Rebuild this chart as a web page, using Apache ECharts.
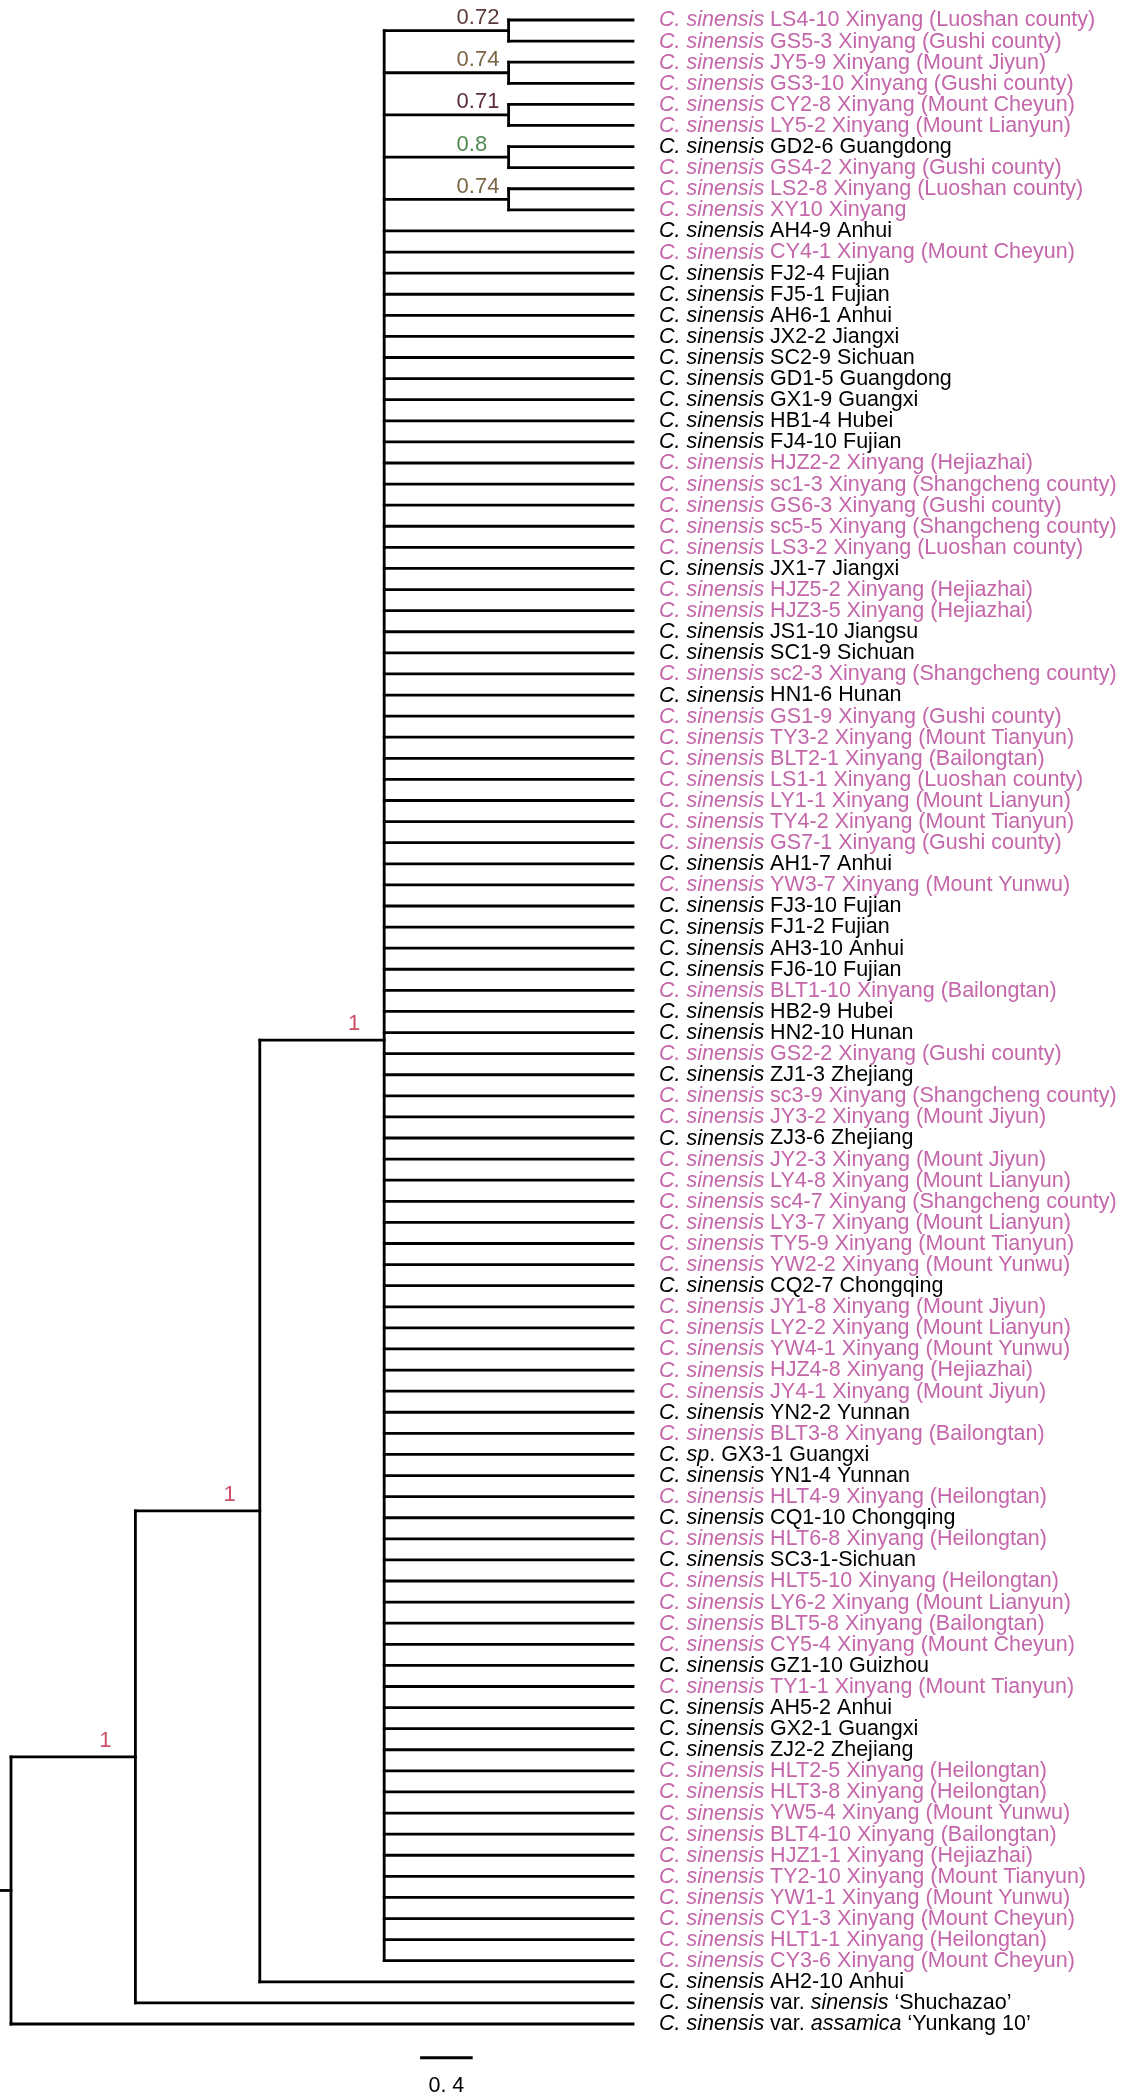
<!DOCTYPE html>
<html>
<head>
<meta charset="utf-8">
<script src="https://cdn.jsdelivr.net/npm/echarts@6/dist/echarts.min.js"></script>
<style>
html,body{margin:0;padding:0;background:#fff;}
#chart{width:1136px;height:2096px;}
</style>
</head>
<body>
<div id="chart"></div>
<script>
// ---------- DATA ----------
// Leaf labels, top to bottom (text after the italic taxon name)
const leafLabels = [
  "LS4-10 Xinyang (Luoshan county)", "GS5-3 Xinyang (Gushi county)", "JY5-9 Xinyang (Mount Jiyun)",
  "GS3-10 Xinyang (Gushi county)", "CY2-8 Xinyang (Mount Cheyun)", "LY5-2 Xinyang (Mount Lianyun)",
  "GD2-6 Guangdong", "GS4-2 Xinyang (Gushi county)", "LS2-8 Xinyang (Luoshan county)",
  "XY10 Xinyang", "AH4-9 Anhui", "CY4-1 Xinyang (Mount Cheyun)",
  "FJ2-4 Fujian", "FJ5-1 Fujian", "AH6-1 Anhui", "JX2-2 Jiangxi", "SC2-9 Sichuan",
  "GD1-5 Guangdong", "GX1-9 Guangxi", "HB1-4 Hubei", "FJ4-10 Fujian",
  "HJZ2-2 Xinyang (Hejiazhai)", "sc1-3 Xinyang (Shangcheng county)", "GS6-3 Xinyang (Gushi county)",
  "sc5-5 Xinyang (Shangcheng county)", "LS3-2 Xinyang (Luoshan county)", "JX1-7 Jiangxi",
  "HJZ5-2 Xinyang (Hejiazhai)", "HJZ3-5 Xinyang (Hejiazhai)", "JS1-10 Jiangsu", "SC1-9 Sichuan",
  "sc2-3 Xinyang (Shangcheng county)", "HN1-6 Hunan", "GS1-9 Xinyang (Gushi county)",
  "TY3-2 Xinyang (Mount Tianyun)", "BLT2-1 Xinyang (Bailongtan)", "LS1-1 Xinyang (Luoshan county)",
  "LY1-1 Xinyang (Mount Lianyun)", "TY4-2 Xinyang (Mount Tianyun)", "GS7-1 Xinyang (Gushi county)",
  "AH1-7 Anhui", "YW3-7 Xinyang (Mount Yunwu)", "FJ3-10 Fujian", "FJ1-2 Fujian", "AH3-10 Anhui",
  "FJ6-10 Fujian", "BLT1-10 Xinyang (Bailongtan)", "HB2-9 Hubei", "HN2-10 Hunan",
  "GS2-2 Xinyang (Gushi county)", "ZJ1-3 Zhejiang", "sc3-9 Xinyang (Shangcheng county)",
  "JY3-2 Xinyang (Mount Jiyun)", "ZJ3-6 Zhejiang", "JY2-3 Xinyang (Mount Jiyun)",
  "LY4-8 Xinyang (Mount Lianyun)", "sc4-7 Xinyang (Shangcheng county)", "LY3-7 Xinyang (Mount Lianyun)",
  "TY5-9 Xinyang (Mount Tianyun)", "YW2-2 Xinyang (Mount Yunwu)", "CQ2-7 Chongqing",
  "JY1-8 Xinyang (Mount Jiyun)", "LY2-2 Xinyang (Mount Lianyun)", "YW4-1 Xinyang (Mount Yunwu)",
  "HJZ4-8 Xinyang (Hejiazhai)", "JY4-1 Xinyang (Mount Jiyun)", "YN2-2 Yunnan",
  "BLT3-8 Xinyang (Bailongtan)", "GX3-1 Guangxi", "YN1-4 Yunnan", "HLT4-9 Xinyang (Heilongtan)",
  "CQ1-10 Chongqing", "HLT6-8 Xinyang (Heilongtan)", "SC3-1-Sichuan", "HLT5-10 Xinyang (Heilongtan)",
  "LY6-2 Xinyang (Mount Lianyun)", "BLT5-8 Xinyang (Bailongtan)", "CY5-4 Xinyang (Mount Cheyun)",
  "GZ1-10 Guizhou", "TY1-1 Xinyang (Mount Tianyun)", "AH5-2 Anhui", "GX2-1 Guangxi", "ZJ2-2 Zhejiang",
  "HLT2-5 Xinyang (Heilongtan)", "HLT3-8 Xinyang (Heilongtan)", "YW5-4 Xinyang (Mount Yunwu)",
  "BLT4-10 Xinyang (Bailongtan)", "HJZ1-1 Xinyang (Hejiazhai)", "TY2-10 Xinyang (Mount Tianyun)",
  "YW1-1 Xinyang (Mount Yunwu)", "CY1-3 Xinyang (Mount Cheyun)", "HLT1-1 Xinyang (Heilongtan)",
  "CY3-6 Xinyang (Mount Cheyun)", "AH2-10 Anhui",
  "‘Shuchazao’", "‘Yunkang 10’"
];
// Taxon-name exceptions (default: italic "C. sinensis")
const taxonSp = [68];                       // "C. sp."
const taxonVar = {94: "sinensis", 95: "assamica"}; // C. sinensis var. X

// Topology
const pairClades = [[0, 1], [2, 3], [4, 5], [6, 7], [8, 9]];
const pairSupport = [0.72, 0.74, 0.71, 0.8, 0.74];
const polytomyRange = [10, 92];              // leaves attached directly to the large polytomy
const outgroupLeaves = [93, 94, 95];         // successively sister to the clade above
const backboneSupport = [1, 1, 1];           // polytomy clade, +AH2-10, +Shuchazao

const scaleBarValue = 0.4;
const scaleBarText = "0. 4";

// ---------- STYLE ----------
const PINK = "#C466AA";
const BLACK = "#000000";
const pairSupportColors = ["#5C3A3A", "#7A6545", "#5A2E3A", "#4E8A4E", "#7A6545"];
const backboneColor = "#CC4F66";
const FONT = "'Liberation Sans', Arial, sans-serif";
const LEAF_FS = 21.5;
const NODE_FS = 22;
const LW = 2.8;
const ROOT_STUB = 0.09;
const SCALE_X0 = 3.3, SCALE_Y = 96.6;

// ---------- BUILD TREE ----------
function leaf(i) { return {leaf: i}; }
const pairNodes = pairClades.map((p, k) => ({children: p.map(leaf), support: pairSupport[k], supportColor: pairSupportColors[k]}));
const polyChildren = pairNodes.slice();
for (let i = polytomyRange[0]; i <= polytomyRange[1]; i++) polyChildren.push(leaf(i));
let node = {children: polyChildren, support: backboneSupport[0], supportColor: backboneColor};
node = {children: [node, leaf(outgroupLeaves[0])], support: backboneSupport[1], supportColor: backboneColor};
node = {children: [node, leaf(outgroupLeaves[1])], support: backboneSupport[2], supportColor: backboneColor};
const root = {children: [node, leaf(outgroupLeaves[2])]};

const LEAF_X = 5;
function layout(n, depth) {
  if (n.leaf !== undefined) { n.x = LEAF_X; n.y = n.leaf; return; }
  n.x = depth;
  n.children.forEach(c => layout(c, depth + 1));
  n.y = n.children.reduce((s, c) => s + c.y, 0) / n.children.length;
}
layout(root, 0);

const segments = [];
const nodeLabels = [];
function collect(n) {
  if (n.leaf !== undefined) return;
  const ys = n.children.map(c => c.y);
  segments.push([n.x, Math.min(...ys), n.x, Math.max(...ys)]);
  n.children.forEach(c => {
    segments.push([n.x, c.y, c.x, c.y]);
    if (c.support !== undefined) nodeLabels.push([c.x, c.y, String(c.support), c.supportColor]);
    collect(c);
  });
}
collect(root);
segments.push([-ROOT_STUB, root.y, 0, root.y]);
segments.push([SCALE_X0, SCALE_Y, SCALE_X0 + scaleBarValue, SCALE_Y]);

const leafData = leafLabels.map((t, i) => [LEAF_X, i]);

function leafRich(i) {
  const t = leafLabels[i];
  if (taxonSp.indexOf(i) >= 0) return "{i|C. sp}{n|. " + t + "}";
  if (taxonVar[i]) return "{i|C. sinensis} {n|var.} {i|" + taxonVar[i] + "} {n|" + t + "}";
  return "{i|C. sinensis} {n|" + t + "}";
}
function leafColor(i) { return leafLabels[i].indexOf("Xinyang") >= 0 ? PINK : BLACK; }

const chart = echarts.init(document.getElementById("chart"), null, {renderer: "canvas"});
chart.setOption({
  animation: false,
  backgroundColor: "#fff",
  grid: {left: 11, right: 503, top: 20, bottom: 72},
  xAxis: {type: "value", min: 0, max: 5, show: false},
  yAxis: {type: "value", min: 0, max: 95, inverse: true, show: false},
  series: [
    {
      type: "custom", clip: false, silent: true,
      encode: {x: [0, 2], y: [1, 3]},
      data: segments,
      renderItem(params, api) {
        const p1 = api.coord([api.value(0), api.value(1)]);
        const p2 = api.coord([api.value(2), api.value(3)]);
        return {type: "line", shape: {x1: p1[0], y1: p1[1], x2: p2[0], y2: p2[1]},
          style: {stroke: "#000", lineWidth: LW, lineCap: "square"}};
      }
    },
    {
      type: "custom", clip: false, silent: true,
      encode: {x: 0, y: 1},
      data: leafData,
      renderItem(params, api) {
        const i = params.dataIndex;
        const p = api.coord([api.value(0), api.value(1)]);
        const col = leafColor(i);
        const base = {fontSize: LEAF_FS, fontFamily: FONT, fill: col};
        return {type: "text", x: p[0] + 26, y: p[1] + 0.5,
          style: {text: leafRich(i), fontSize: LEAF_FS, fontFamily: FONT, fill: col,
            verticalAlign: "middle", align: "left",
            rich: {i: Object.assign({fontStyle: "italic"}, base), n: Object.assign({fontStyle: "normal"}, base)}}};
      }
    },
    {
      type: "custom", clip: false, silent: true,
      encode: {x: 0, y: 1},
      data: nodeLabels.map(d => [d[0], d[1]]),
      renderItem(params, api) {
        const d = nodeLabels[params.dataIndex];
        const p = api.coord([api.value(0), api.value(1)]);
        const isOne = d[2].length === 1;
        return {type: "text", x: isOne ? p[0] - 24 : p[0] - 52, y: isOne ? p[1] - 5 : p[1] - 1.5,
          style: {text: d[2], fontSize: NODE_FS, fontFamily: FONT, fill: d[3],
            align: isOne ? "right" : "left", verticalAlign: "bottom"}};
      }
    },
    {
      type: "custom", clip: false, silent: true,
      encode: {x: 0, y: 1},
      data: [[SCALE_X0 + scaleBarValue / 2, SCALE_Y]],
      renderItem(params, api) {
        const p = api.coord([api.value(0), api.value(1)]);
        return {type: "text", x: p[0], y: p[1] + 28,
          style: {text: scaleBarText, fontSize: 21.5, fontFamily: FONT, fill: "#000",
            align: "center", verticalAlign: "middle"}};
      }
    }
  ]
});
</script>
</body>
</html>
